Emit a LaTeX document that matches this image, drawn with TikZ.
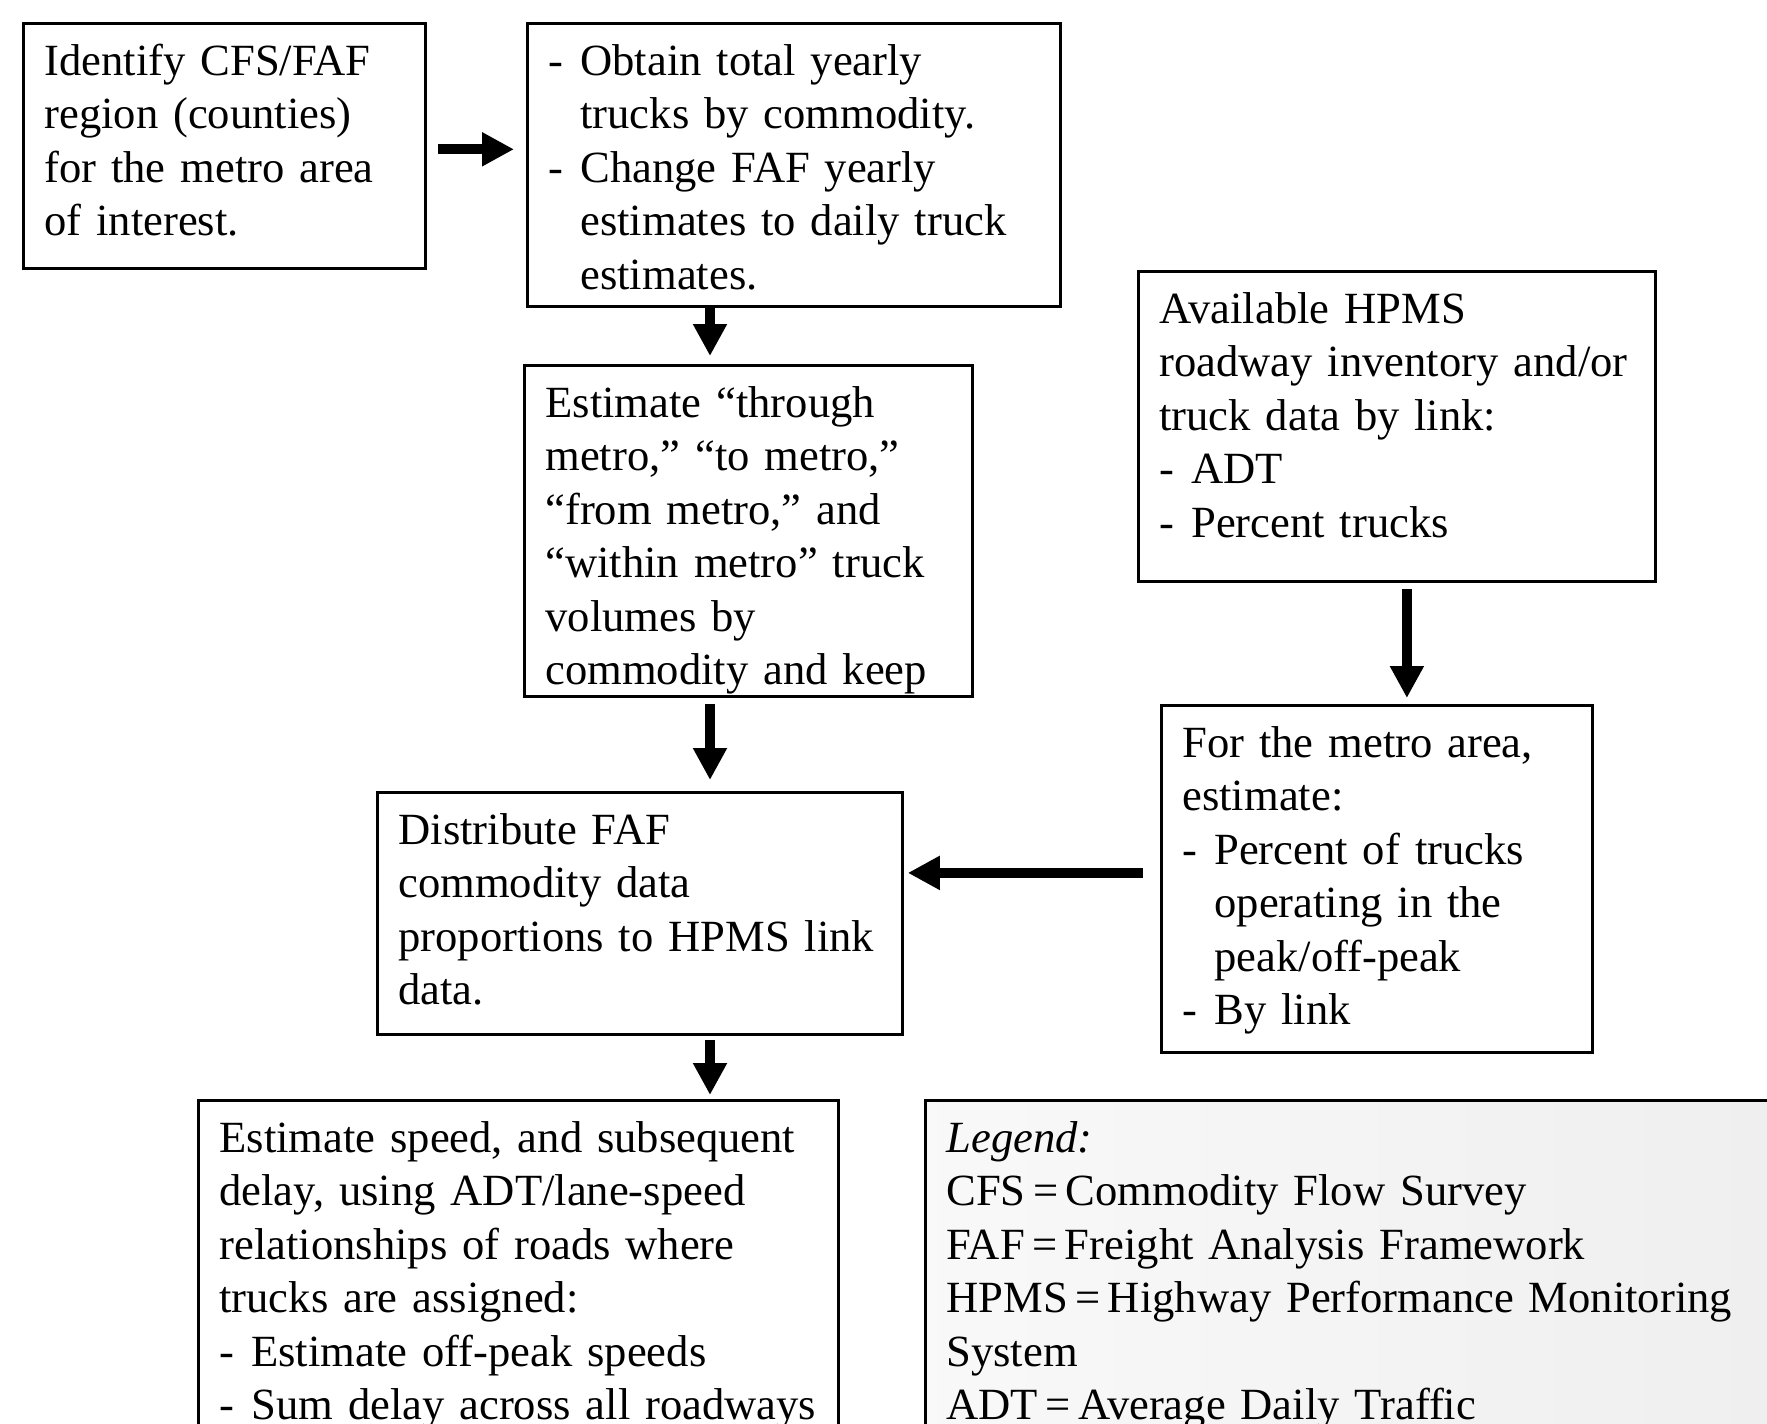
\documentclass[tikz,border=0pt]{standalone}
\usepackage{fontspec}
\setmainfont{Liberation Serif}
\usepackage{tikz}
\usetikzlibrary{arrows.meta}
\tikzstyle{box} = [draw, line width=1.4pt, rectangle, anchor=north west, align=left, inner xsep=10.5pt, inner ysep=0pt, text height=26pt, font=\fontsize{22.3}{26.7}\selectfont]
\tikzstyle{flow} = [-{Triangle[length=16pt, width=16pt]}, line width=5pt]
\newcommand{\dashB}{\makebox[16pt][l]{-}}
\newcommand{\skipB}{\hspace*{16pt}}

\begin{document}
\begin{tikzpicture}[x=0.5pt, y=-0.5pt]
\clip (0,0) rectangle (1767,1424);
\node [box, text width=180pt, text depth=96.5pt] (CF) at (22, 22) {Identify CFS/FAF\\region (counties)\\for the metro area\\of interest.};
\node [box, text width=245.5pt, text depth=115.5pt] (YT) at (526, 22) {\dashB Obtain total yearly\\\skipB trucks by commodity.\\\dashB Change FAF yearly\\\skipB estimates to daily truck\\\skipB estimates.};
\node [box, text width=203pt, text depth=139.5pt] (TM) at (523, 364) {Estimate “through\\metro,” “to metro,”\\“from metro,” and\\“within metro” truck\\volumes by\\commodity and keep};
\node [box, text width=237.5pt, text depth=129pt] (HP) at (1137, 270) {Available HPMS\\roadway inventory and/or\\truck data by link:\\\dashB ADT\\\dashB Percent trucks};
\node [box, text width=194.5pt, text depth=147.5pt] (PK) at (1160, 704) {For the metro area,\\estimate:\\\dashB Percent of trucks\\\skipB operating in the\\\skipB peak/off-peak\\\dashB By link};
\node [box, text width=241.5pt, text depth=95pt] (DF) at (376, 791) {Distribute FAF\\commodity data\\proportions to HPMS link\\data.};
\node [box, text width=299pt, text depth=174pt] (SP) at (197, 1099) {Estimate speed, and subsequent\\delay, using ADT/lane-speed\\relationships of roads where\\trucks are assigned:\\\dashB Estimate off-peak speeds\\\dashB \mbox{Sum delay across all roadways}};
% legend box runs off the page on the right and bottom
\node [box, text width=429pt, text depth=174pt, left color=gray!5, right color=gray!13] (LG) at (924, 1099) {\textit{Legend:}\\CFS\,=\,Commodity Flow Survey\\FAF\,=\,Freight Analysis Framework\\HPMS\,=\,Highway Performance Monitoring\\System\\ADT\,=\,Average Daily Traffic};
\coordinate (spine) at (710, 0);
\draw [flow, shorten <=5.5pt, shorten >=6pt] ([yshift=-1.7pt]CF.east) -- ([yshift=-1.7pt]CF.east -| YT.west);
\draw [flow, shorten >=4pt] (YT.south -| spine) -- (TM.north -| spine);
\draw [flow, shorten <=3pt, shorten >=5.5pt] (TM.south -| spine) -- (DF.north -| spine);
\draw [flow, shorten <=2pt, shorten >=2pt] (DF.south -| spine) -- (SP.north -| spine);
\draw [flow, shorten <=3pt, shorten >=3pt] ([xshift=5pt]HP.south) -- ([xshift=5pt]HP.south |- PK.north);
\draw [flow, shorten <=8.5pt, shorten >=2pt] ([yshift=3pt]PK.west) -- ([yshift=3pt]PK.west -| DF.east);
\end{tikzpicture}
\end{document}
